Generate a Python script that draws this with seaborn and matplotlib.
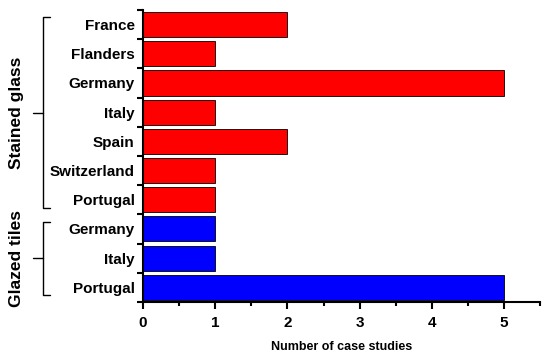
import matplotlib
matplotlib.use("Agg")
import matplotlib.pyplot as plt
import matplotlib.transforms as mtransforms
import seaborn as sns
import pandas as pd
import numpy as np

# ------------------------------- Data ----------------------------------------------
countries = ["France", "Flanders", "Germany", "Italy", "Spain", "Switzerland", "Portugal",
             "Germany", "Italy", "Portugal"]
groups = ["Stained glass"] * 7 + ["Glazed tiles"] * 3
case_studies = [2, 1, 5, 1, 2, 1, 1, 1, 1, 5]
group_colors = {"Stained glass": "#ff0000", "Glazed tiles": "#0000ff"}

df = pd.DataFrame({"key": [f"{g}|{c}" for g, c in zip(groups, countries)],
                   "country": countries, "group": groups, "cases": case_studies})

# ------------------------------- Plot ----------------------------------------------
sns.set_theme(style="ticks")
plt.rcParams["font.family"] = ["Liberation Sans", "DejaVu Sans"]
plt.rcParams["font.weight"] = "bold"
plt.rcParams["text.color"] = "black"
plt.rcParams["xtick.color"] = "black"
plt.rcParams["ytick.color"] = "black"
plt.rcParams["axes.labelcolor"] = "black"

fig = plt.figure(figsize=(5.5, 3.56), dpi=100)
ax = fig.add_axes([0.26, 0.152, 0.722, 0.82])

sns.barplot(data=df, y="key", x="cases", hue="group", palette=group_colors,
            order=df["key"], orient="h", width=0.86, dodge=False, legend=False,
            saturation=1, edgecolor="black", linewidth=0.6, ax=ax)

ax.set_xlim(0, 5.5)
ax.set_ylim(len(df) - 0.5, -0.5)
ax.set_xticks(range(6))
ax.set_xticks(np.arange(0.5, 5.6, 1.0), minor=True)
ax.tick_params(axis="x", which="major", length=5, width=1.5, labelsize=11, pad=5)
ax.tick_params(axis="x", which="minor", length=3, width=1.5)

# y ticks at bar boundaries, labels centred on bars
ax.set_yticks(np.arange(-0.5, len(df), 1.0))
ax.set_yticklabels([])
ax.set_yticks(range(len(df)), minor=True)
ax.set_yticklabels(df["country"], minor=True, fontsize=11, fontweight="bold")
ax.tick_params(axis="y", which="major", length=4, width=1.5)
ax.tick_params(axis="y", which="minor", length=0, pad=6)

for lbl in ax.get_xticklabels():
    lbl.set_fontweight("bold")

ax.set_ylabel("")
ax.set_xlabel("Number of case studies", fontsize=9, fontweight="bold", labelpad=8)

sns.despine(ax=ax)
for side in ["left", "bottom"]:
    ax.spines[side].set_linewidth(1.5)
    ax.spines[side].set_color("black")

# group brackets
trans = mtransforms.blended_transform_factory(ax.transAxes, ax.transData)
bx, nub, cap, tx = -0.252, -0.277, -0.235, -0.318
for name, y0, y1 in [("Stained glass", -0.25, 6.3), ("Glazed tiles", 6.75, 9.25)]:
    ym = (y0 + y1) / 2
    ax.plot([cap, bx, bx, cap], [y0, y0, y1, y1], transform=trans, color="black",
            lw=1.0, clip_on=False)
    ax.plot([nub, bx], [ym, ym], transform=trans, color="black", lw=1.0, clip_on=False)
    ax.text(tx, ym, name, transform=trans, rotation=90, ha="center", va="center",
            fontsize=12.5, fontweight="bold")

fig.savefig("out.png", dpi=100)
